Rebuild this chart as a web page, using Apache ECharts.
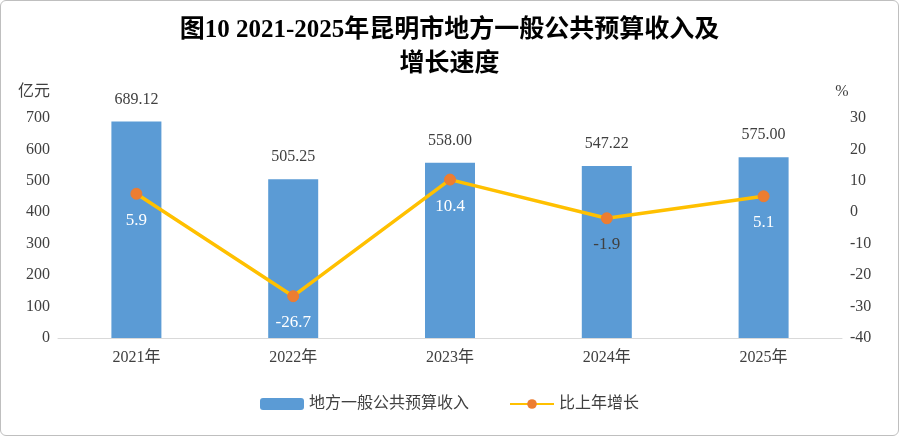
<!DOCTYPE html>
<html><head><meta charset="utf-8">
<script src="https://cdn.jsdelivr.net/npm/echarts@6/dist/echarts.min.js"></script>
<style>html,body{margin:0;padding:0;background:#fff}#c{width:899px;height:436px;box-sizing:border-box;border:1px solid #bfbfbf;border-radius:6px}</style>
</head><body><div id="c"></div>
<script>
var categories = ['2021年', '2022年', '2023年', '2024年', '2025年'];
var revenue = [689.12, 505.25, 558.00, 547.22, 575.00];
var growth = [5.9, -26.7, 10.4, -1.9, 5.1];
var growthLabelColors = ['#fff', '#fff', '#fff', '#404040', '#fff'];

var font = '"Liberation Serif", "Noto Sans CJK SC", serif';
var chart = echarts.init(document.getElementById('c'));
chart.setOption({
  animation: false,
  textStyle: { fontFamily: font },
  title: {
    text: '图10 2021-2025年昆明市地方一般公共预算收入及\n增长速度',
    left: 'center', top: 8,
    textStyle: { fontFamily: font, fontSize: 25, fontWeight: 'bold', color: '#000', lineHeight: 34 }
  },
  grid: { left: 57, right: 56, top: 117, bottom: 97 },
  legend: {
    bottom: 18, itemGap: 40, itemWidth: 44, itemHeight: 12,
    textStyle: { fontFamily: font, fontSize: 16, color: '#404040' },
    data: ['地方一般公共预算收入', '比上年增长']
  },
  xAxis: {
    type: 'category', data: categories,
    axisTick: { show: false },
    axisLine: { lineStyle: { color: '#d9d9d9' } },
    axisLabel: { fontFamily: font, fontSize: 16, color: '#404040', margin: 12 }
  },
  yAxis: [
    { type: 'value', min: 0, max: 700, interval: 100, name: '亿元',
      nameGap: 18, nameTextStyle: { fontFamily: font, fontSize: 16, color: '#404040', align: 'right', padding: [0, 8, 0, 0] },
      splitLine: { show: false }, axisLine: { show: false }, axisTick: { show: false },
      axisLabel: { fontFamily: font, fontSize: 16, color: '#404040' } },
    { type: 'value', min: -40, max: 30, interval: 10, name: '%',
      nameGap: 18, nameTextStyle: { fontFamily: font, fontSize: 16, color: '#404040' },
      splitLine: { show: false }, axisLine: { show: false }, axisTick: { show: false },
      axisLabel: { fontFamily: font, fontSize: 16, color: '#404040' } }
  ],
  series: [
    { name: '地方一般公共预算收入', type: 'bar', data: revenue, barWidth: 50,
      itemStyle: { color: '#5b9bd5' },
      label: { show: true, position: 'top', distance: 14, fontFamily: font, fontSize: 16, color: '#404040',
        formatter: function (p) { return p.value.toFixed(2); } } },
    { name: '比上年增长', type: 'line', yAxisIndex: 1,
      data: growth.map(function (v, i) { return { value: v, label: { color: growthLabelColors[i] } }; }),
      symbol: 'circle', symbolSize: 11,
      lineStyle: { color: '#ffc000', width: 3.5 },
      itemStyle: { color: '#ed7d31', borderColor: '#ed7d31' },
      label: { show: true, position: 'bottom', distance: 12, fontFamily: font, fontSize: 17, color: '#fff',
        formatter: function (p) { return p.value.toFixed(1); } } }
  ]
});
</script></body></html>
